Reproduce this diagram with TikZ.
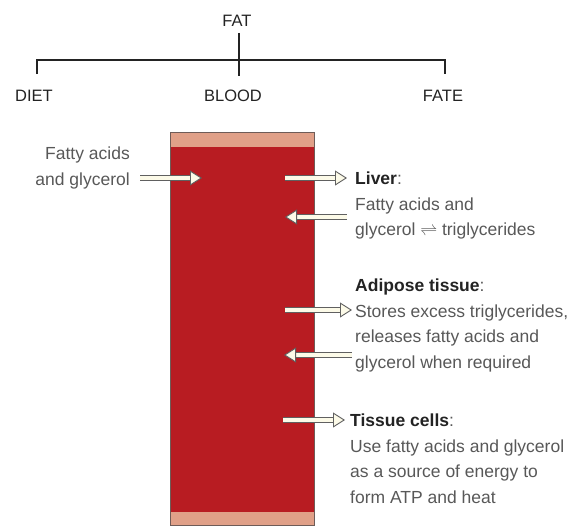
\documentclass[tikz,border=0pt]{standalone}
\usepackage{fontspec}
\setmainfont{Liberation Sans}
\usepackage{amsmath}
\usetikzlibrary{positioning,arrows.meta}
\definecolor{blood}{RGB}{184,28,34}
\definecolor{wall}{RGB}{224,160,136}
\definecolor{rim}{RGB}{110,92,88}
\definecolor{txt}{RGB}{88,88,88}
\definecolor{hd}{RGB}{35,35,35}
\definecolor{cream}{RGB}{252,250,232}
\tikzset{
  head/.style={font=\fontsize{16.5}{20}\selectfont,text=hd,inner sep=0pt},
  info/.style={font=\fontsize{17.5}{25.5}\selectfont,text=txt,inner sep=0pt,align=left,anchor=north west},
  tree/.style={draw=hd,line width=1.8pt},
  flow/.style={draw=gray!75!black,double=cream,double distance=3.8pt,line width=0.9pt,
    -{Triangle[length=12pt,width=15pt,fill=cream,line width=0.9pt]}},
}
\begin{document}
\begin{tikzpicture}[x=1pt,y=-1pt]
  \useasboundingbox (0,0) rectangle (570,527);
  % the three headings under FAT
  \node[head] (fat) at (237,21){FAT};
  \node[head] (diet) at (34,96){DIET};
  \node[head] (blood) at (233,96){BLOOD};
  \node[head] (fate) at (443,96){FATE};
  \coordinate (fattop) at (239,33);
  \coordinate (fatbot) at (239,76);
  \coordinate (dietend) at (37,74);
  \coordinate (fateend) at (445,74);
  \draw[tree] (fattop) -- (fatbot);
  \draw[tree] (dietend) -- (dietend|-0,60) -- (fateend|-0,60) -- (fateend);

  % the blood vessel
  \fill[blood] (170,132) rectangle (314,525);
  \fill[wall] (170,132) rectangle (314,147);
  \fill[wall] (170,512) rectangle (314,525);
  \draw[rim,line width=1pt] (170,132) rectangle (314,525);

  % diet in
  \node[info,align=right,anchor=north east] (diettxt) at (130,147){Fatty acids\\and glycerol};
  \coordinate (in1) at (140,178);  \coordinate (in2) at (202,178);
  \draw[flow] (in1) -- (in2);

  % liver
  \node[info] (liver) at (355,172){\textbf{\color{hd}Liver}:\\Fatty acids and\\glycerol$\;\rightleftharpoons\;$triglycerides};
  \coordinate (lv1) at (285,178);  \coordinate (lv2) at (347,178);
  \coordinate (lv3) at (347,217);  \coordinate (lv4) at (285,217);
  \draw[flow] (lv1) -- (lv2);
  \draw[flow] (lv3) -- (lv4);

  % adipose tissue
  \node[info] (adipose) at (355,279){\textbf{\color{hd}Adipose tissue}:\\Stores excess triglycerides,\\releases fatty acids and\\glycerol when required};
  \coordinate (ad1) at (285,310);  \coordinate (ad2) at (352,310);
  \coordinate (ad3) at (352,355);  \coordinate (ad4) at (284,355);
  \draw[flow] (ad1) -- (ad2);
  \draw[flow] (ad3) -- (ad4);

  % tissue cells
  \node[info] (cells) at (350,414){\textbf{\color{hd}Tissue cells}:\\Use fatty acids and glycerol\\as a source of energy to\\form ATP and heat};
  \coordinate (tc1) at (283,420);  \coordinate (tc2) at (345,420);
  \draw[flow] (tc1) -- (tc2);
\end{tikzpicture}
\end{document}
